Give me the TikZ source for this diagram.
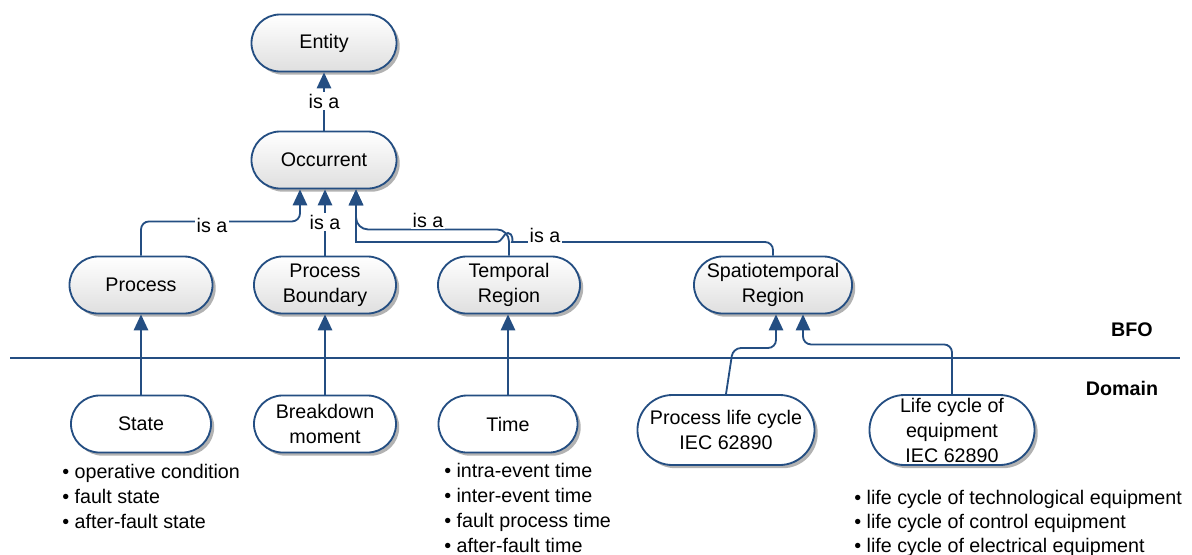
\documentclass[tikz,border=0pt]{standalone}
\usepackage{fontspec}
\setmainfont{Liberation Sans}
\usetikzlibrary{shadows, arrows.meta, positioning}
\definecolor{lineblue}{RGB}{36,78,130}
\tikzset{
	concept/.style={
		rectangle,
		draw=lineblue,
		line width=1.3pt,
		align=center,
		font=\fontsize{14}{17.8}\selectfont,
		minimum height=1.425cm,
		rounded corners=0.7125cm,
		inner sep=1pt,
		drop shadow={shadow xshift=0.08cm, shadow yshift=-0.08cm, fill=gray!60, opacity=1}
	},
	bfo/.style={
		concept,
		top color=white,
		bottom color=gray!25
	},
	dom/.style={
		concept,
		fill=white
	},
	tall/.style={
		minimum height=1.75cm,
		rounded corners=0.875cm
	},
	isa/.style={
		draw=lineblue,
		line width=1.3pt,
		rounded corners=0.2cm,
		-{Triangle[width=0.36cm,length=0.4cm]}
	},
	lbl/.style={
		fill=white,
		inner sep=1pt,
		font=\fontsize{14}{17.8}\selectfont
	},
	item/.style={
		inner sep=0pt,
		anchor=base west,
		font=\fontsize{14}{17.8}\selectfont
	}
}

\begin{document}
\begin{tikzpicture}[x=0.025cm, y=-0.025cm]
		\useasboundingbox (0,0) rectangle (1192,554);
		
		% BFO level
		\node [bfo, minimum width=3.625cm] (entity) at (324,43) {Entity};
		\node [bfo, minimum width=3.625cm] (occurrent) at (324,160) {Occurrent};
		\node [bfo, minimum width=3.575cm] (process) at (141,285) {Process};
		\node [bfo, minimum width=3.55cm] (procbound) at (325,285) {Process\\Boundary};
		\node [bfo, minimum width=3.55cm] (tempreg) at (509,285) {Temporal\\Region};
		\node [bfo, minimum width=3.95cm] (spatreg) at (773,285) {Spatiotemporal\\Region};
		
		% domain level
		\node [dom, minimum width=3.5cm] (state) at (141,424) {State};
		\node [dom, minimum width=3.55cm] (breakdown) at (325,424) {Breakdown\\moment};
		\node [dom, minimum width=3.475cm] (time) at (508,424) {Time};
		\node [dom, tall, minimum width=4.425cm] (proclife) at (726,430) {Process life cycle\\IEC 62890};
		\node [dom, tall, minimum width=4.125cm] (equiplife) at (952,430) {Life cycle of\\equipment\\IEC 62890};
		
		% separator
		\draw [lineblue, line width=1.3pt] (10,358) -- (1180,358);
		\node [font=\fontsize{14}{17.8}\selectfont\bfseries] (bfolbl) at (1132,330) {BFO};
		\node [font=\fontsize{14}{17.8}\selectfont\bfseries] (domlbl) at (1122,388) {Domain};
		
		% is a links
		\draw [isa] (occurrent.north) -- (entity.south);
		\node [lbl] (isa1) at (324,101) {is a};
		\draw [isa] (process.north) |- ([xshift=-0.6cm, yshift=-0.8cm]occurrent.south) -- ([xshift=-0.6cm]occurrent.south);
		\node [lbl] (isa2) at (212,225) {is a};
		\draw [isa] (procbound.north) -- (procbound.north |- occurrent.south);
		\node [lbl] (isa3) at (325,222) {is a};
		\draw [isa, rounded corners=0.3cm] (tempreg.north) |- ([xshift=0.8cm, yshift=-1cm]occurrent.south) -- ([xshift=0.8cm]occurrent.south);
		\node [lbl] (isa4) at (428,220) {is a};
		\draw [isa] (spatreg.north) |- (520,242) [sharp corners]
			.. controls (513,242) and (513,233) .. (508,233)
			.. controls (503,233) and (503,242) .. (496,242)
			-- (356,242) [rounded corners=0.3cm] -- ([xshift=0.8cm]occurrent.south);
		\node [lbl] (isa5) at (545,235) {is a};
		
		% domain to BFO
		\draw [isa] (state.north) -- (process.south);
		\draw [isa] (breakdown.north) -- (procbound.south);
		\draw [isa] (time.north) -- (time.north |- tempreg.south);
		\draw [isa] (proclife.north) -- (733,348) -- (776,348) -- ([xshift=0.075cm]spatreg.south);
		\draw [isa] (equiplife.north) |- ([xshift=0.75cm, yshift=-0.75cm]spatreg.south) -- ([xshift=0.75cm]spatreg.south);
		
		% lists
		\foreach \t [count=\i from 0] in {operative condition, fault state, after-fault state}
			\node [item] (st\i) at (62,478+25*\i) {\textbullet\ \t};
		\foreach \t [count=\i from 0] in {intra-event time, inter-event time, fault process time, after-fault time}
			\node [item] (tm\i) at (444,477+25*\i) {\textbullet\ \t};
		\foreach \t [count=\i from 0] in {life cycle of technological equipment, life cycle of control equipment, life cycle of electrical equipment}
			\node [item] (eq\i) at (854,504+24*\i) {\textbullet\ \t};
\end{tikzpicture}
\end{document}
